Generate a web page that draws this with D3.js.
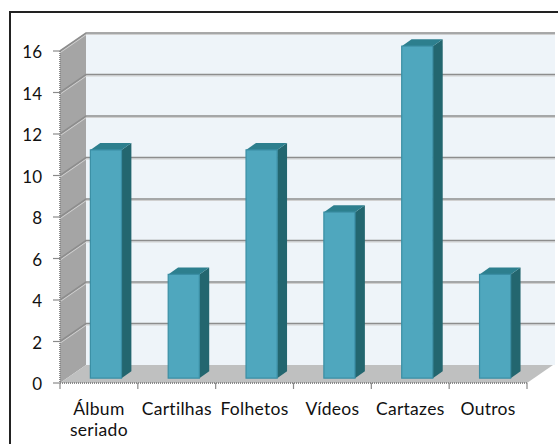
<!DOCTYPE html>
<html><head><meta charset="utf-8">
<script src="https://cdn.jsdelivr.net/npm/d3@7/dist/d3.min.js"></script>
<style>body{margin:0;background:#fff}svg{display:block}</style>
</head><body>
<script>
const categories = [["Álbum","seriado"],["Cartilhas"],["Folhetos"],["Vídeos"],["Cartazes"],["Outros"]];
const values = [11, 5, 11, 8, 16, 5];
const yTicks = [0, 2, 4, 6, 8, 10, 12, 14, 16];

const W = 558, H = 444;
const svg = d3.select("body").append("svg").attr("width", W).attr("height", H);
const DX = 26, DY = -18;
const x = d3.scaleBand().domain(categories.map((d,i)=>i)).range([60, 527]).padding(0);
const y = d3.scaleLinear().domain([0, 16]).range([383, 51]);
const P = (px, py, f) => [px + DX*f, py + DY*f];
const font = "Lato, 'Open Sans', sans-serif";

// outer border
svg.append("rect").attr("x", 10).attr("y", 12).attr("width", 600).attr("height", 500)
  .attr("fill", "none").attr("stroke", "#222").attr("stroke-width", 2);

const x0 = x.range()[0], x1 = x.range()[1];
const poly = pts => pts.map(p => p.join(",")).join(" ");
// back wall
svg.append("polygon").attr("points", poly([P(x0,y(16),1),P(x1+2,y(16),1),P(x1+2,y(0),1),P(x0,y(0),1)]))
  .attr("fill", "#eef4f9");
// left wall
svg.append("polygon").attr("points", poly([P(x0,y(16),0),P(x0,y(16),1),P(x0,y(0),1),P(x0,y(0),0)]))
  .attr("fill", "#a5a5a5");
// floor
svg.append("polygon").attr("points", poly([P(x0,y(0),0),P(x0,y(0),1),P(x1,y(0),1),P(x1,y(0),0)]))
  .attr("fill", "#bfc0c0");

// gridlines
yTicks.filter(v => v > 0).forEach(v => {
  const a = P(x0, y(v), 0), b = P(x0, y(v), 1), c = P(x1+2, y(v), 1);
  svg.append("polyline").attr("points", poly([[a[0],a[1]+1.5],[b[0],b[1]+1.5],[c[0],c[1]+1.5]]))
    .attr("fill","none").attr("stroke","#d0d0d0").attr("stroke-width",1.2);
  svg.append("polyline").attr("points", poly([a,b,c]))
    .attr("fill","none").attr("stroke","#8d8d8d").attr("stroke-width",1.6);
});

// axes
const axisG = svg.append("g");
axisG.append("line").attr("x1", x0).attr("x2", x0).attr("y1", y(16)).attr("y2", y(0))
  .attr("stroke","#8a8a8a").attr("stroke-width",2).attr("stroke-dasharray","1,1");
axisG.append("line").attr("x1", x0).attr("x2", x1).attr("y1", y(0)).attr("y2", y(0))
  .attr("stroke","#8a8a8a").attr("stroke-width",2).attr("stroke-dasharray","1,1");
yTicks.forEach(v => {
  axisG.append("line").attr("x1", x0-7).attr("x2", x0).attr("y1", y(v)).attr("y2", y(v))
    .attr("stroke","#8a8a8a").attr("stroke-width",1.2);
  axisG.append("text").attr("x", 42).attr("y", y(v)+3).attr("text-anchor","end")
    .attr("dominant-baseline","middle").attr("font-family",font).attr("font-size",17)
    .attr("fill","#111").text(v);
});
const bounds = x.domain().map(i => x(i)).concat([x1]);
bounds.forEach(bx => {
  axisG.append("line").attr("x1", bx).attr("x2", bx).attr("y1", y(0)).attr("y2", y(0)+6)
    .attr("stroke","#8a8a8a").attr("stroke-width",1.2);
});
categories.forEach((lines, i) => {
  const t = axisG.append("text").attr("x", x(i)+x.bandwidth()/2).attr("y", 415)
    .attr("text-anchor","middle").attr("font-family",font).attr("font-size",17.5)
    .attr("letter-spacing", 0.3).attr("fill","#111");
  lines.forEach((l, k) => t.append("tspan").attr("x", x(i)+x.bandwidth()/2).attr("dy", k ? 21 : 0).text(l));
});

// bars
const f0 = 0.27, f1 = 0.65, bw = x.bandwidth()*0.4;
values.forEach((v, i) => {
  const cx = x(i) + x.bandwidth()/2;
  const L = cx - bw/2, R = cx + bw/2;
  const g = svg.append("g");
  // side
  g.append("polygon").attr("points", poly([P(R,y(v),f0),P(R,y(v),f1),P(R,y(0),f1),P(R,y(0),f0)]))
    .attr("fill","#23666f");
  // top
  g.append("polygon").attr("points", poly([P(L,y(v),f0),P(L,y(v),f1),P(R,y(v),f1),P(R,y(v),f0)]))
    .attr("fill","#2d7f8e");
  // front
  const a = P(L, y(v), f0), b = P(R, y(0), f0);
  g.append("rect").attr("x", a[0]).attr("y", a[1]).attr("width", b[0]-a[0]).attr("height", b[1]-a[1])
    .attr("fill","#4fa7be").attr("stroke","#3a8ea4").attr("stroke-width",1.2);
});
</script>
</body></html>
